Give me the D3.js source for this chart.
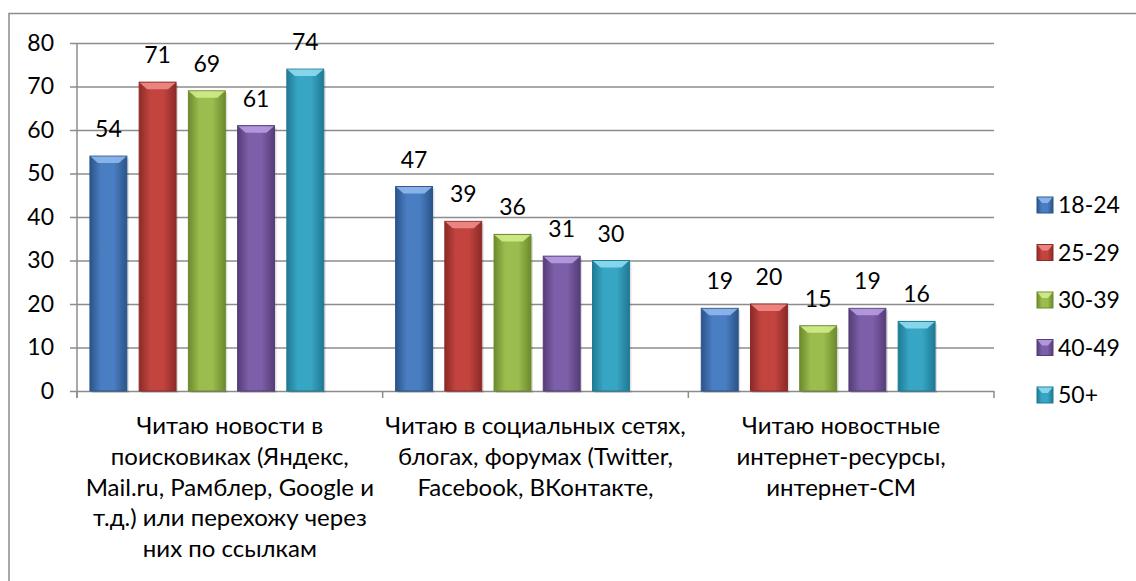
<!DOCTYPE html>
<html>
<head>
<meta charset="utf-8">
<script src="https://cdn.jsdelivr.net/npm/d3@7"></script>
<style>
  html, body { margin: 0; padding: 0; background: #fff; }
  svg text { font-family: Lato, "Open Sans", sans-serif; fill: #000; }
</style>
</head>
<body>
<div id="chart"></div>
<script>
// categories (x-axis labels, already broken into lines like the original)
const categories = [
  "Читаю новости в поисковиках (Яндекс, Mail.ru, Рамблер, Google и т.д.) или перехожу через них по ссылкам",
  "Читаю в социальных сетях, блогах, форумах (Twitter, Facebook, ВКонтакте,",
  "Читаю новостные интернет-ресурсы, интернет-СМ"
];
const categoryLines = [
  ["Читаю новости в", "поисковиках (Яндекс,", "Mail.ru, Рамблер, Google и", "т.д.) или перехожу через", "них по ссылкам"],
  ["Читаю в социальных сетях,", "блогах, форумах (Twitter,", "Facebook, ВКонтакте,"],
  ["Читаю новостные", "интернет-ресурсы,", "интернет-СМ"]
];
const seriesNames = ["18-24", "25-29", "30-39", "40-49", "50+"];
const v18_24 = [54, 47, 19];
const v25_29 = [71, 39, 20];
const v30_39 = [69, 36, 15];
const v40_49 = [61, 31, 19];
const v50plus = [74, 30, 16];
const yTicks = [0, 10, 20, 30, 40, 50, 60, 70, 80];

const seriesValues = [v18_24, v25_29, v30_39, v40_49, v50plus];
// [edge, centre, bevel]
const palette = [
  ["#2b5489", "#4a7ec2", "#8fb8ec"],
  ["#8c2a27", "#c3443f", "#f08c88"],
  ["#6d8a2c", "#9bbd4f", "#d0ec8a"],
  ["#553d78", "#7d5ea8", "#b79ce0"],
  ["#1f7a94", "#37a6c4", "#8fdcf0"]
];

const W = 1136, H = 581;
const plot = { left: 77, right: 994, top: 43, bottom: 391 };

const svg = d3.select("#chart").append("svg")
  .attr("width", W).attr("height", H);

const defs = svg.append("defs");
palette.forEach((c, i) => {
  const g = defs.append("linearGradient").attr("id", "grad" + i)
    .attr("x1", "0%").attr("x2", "100%").attr("y1", "0%").attr("y2", "0%");
  g.append("stop").attr("offset", "0%").attr("stop-color", c[0]);
  g.append("stop").attr("offset", "30%").attr("stop-color", c[1]);
  g.append("stop").attr("offset", "65%").attr("stop-color", c[1]);
  g.append("stop").attr("offset", "100%").attr("stop-color", c[0]);
});

// outer chart border
svg.append("path")
  .attr("d", `M9,${H} V13.5 H${W}`)
  .attr("fill", "none").attr("stroke", "#8c8c8c").attr("stroke-width", 1.5);

const x0 = d3.scaleBand()
  .domain(d3.range(categories.length))
  .range([plot.left, plot.right])
  .padding(0);

const x1 = d3.scaleBand()
  .domain(d3.range(seriesNames.length))
  .range([0, x0.bandwidth()])
  .paddingInner(0.25)
  .paddingOuter(0.73)
  .align(0.18);

const y = d3.scaleLinear().domain([0, 80]).range([plot.bottom, plot.top]);

// gridlines + y axis
const yAxis = d3.axisLeft(y).tickValues(yTicks).tickSize(7).tickPadding(16);
const gy = svg.append("g").attr("transform", `translate(${plot.left},0)`).call(yAxis);
gy.select(".domain").remove();
gy.selectAll(".tick line").attr("x2", plot.right - plot.left)
  .attr("x1", -7).attr("stroke", "#8c8c8c").attr("stroke-width", 1.5);
gy.selectAll(".tick text").attr("font-size", 23).attr("font-family", "Lato, 'Open Sans', sans-serif");

svg.append("line")
  .attr("x1", plot.left).attr("x2", plot.left)
  .attr("y1", plot.top).attr("y2", plot.bottom + 7)
  .attr("stroke", "#8c8c8c").attr("stroke-width", 1.5);

// x axis ticks at category boundaries
const boundaries = d3.range(categories.length + 1).map(i =>
  i < categories.length ? x0(i) : x0(i - 1) + x0.bandwidth());
svg.selectAll(".xtick").data(boundaries).enter().append("line")
  .attr("x1", d => d).attr("x2", d => d)
  .attr("y1", plot.bottom).attr("y2", plot.bottom + 7)
  .attr("stroke", "#8c8c8c").attr("stroke-width", 1.5);

// bars
const groups = svg.selectAll(".grp").data(categories).enter().append("g")
  .attr("transform", (d, i) => `translate(${x0(i)},0)`);

seriesValues.forEach((vals, s) => {
  groups.each(function (d, ci) {
    const g = d3.select(this);
    const v = vals[ci];
    const bx = x1(s), bw = x1.bandwidth();
    const top = y(v), h = y(0) - y(v);
    g.append("rect")
      .attr("x", bx + 2).attr("y", top + 2).attr("width", bw).attr("height", h)
      .attr("fill", "#000").attr("opacity", 0.12);
    g.append("rect")
      .attr("x", bx).attr("y", top).attr("width", bw).attr("height", h)
      .attr("fill", `url(#grad${s})`)
      .attr("stroke", palette[s][0]).attr("stroke-width", 1);
    const bev = Math.min(7, h);
    g.append("path")
      .attr("d", `M${bx + 0.5},${top + 0.5} L${bx + bw - 0.5},${top + 0.5} L${bx + bw - 8},${top + bev} L${bx + 8},${top + bev} Z`)
      .attr("fill", palette[s][2]).attr("opacity", 0.9);
    g.append("text")
      .attr("x", bx + bw / 2).attr("y", top - 19)
      .attr("text-anchor", "middle").attr("font-size", 23)
      .text(v);
  });
});

// category labels
svg.selectAll(".xlab").data(categoryLines).enter().append("text")
  .attr("text-anchor", "middle").attr("font-size", 24)
  .each(function (lines, i) {
    const t = d3.select(this);
    lines.forEach((ln, k) => {
      t.append("tspan")
        .attr("x", x0(i) + x0.bandwidth() / 2)
        .attr("y", 434 + k * 30.8)
        .text(ln);
    });
  });

// legend
const legend = svg.append("g").attr("transform", "translate(1037,0)");
seriesNames.forEach((name, s) => {
  const cy = 205 + s * 47.5;
  legend.append("rect")
    .attr("x", 0).attr("y", cy - 8).attr("width", 16).attr("height", 16)
    .attr("fill", `url(#grad${s})`).attr("stroke", palette[s][0]).attr("stroke-width", 1);
  legend.append("path")
    .attr("d", `M0.5,${cy - 7.5} L15.5,${cy - 7.5} L11,${cy - 2} L5,${cy - 2} Z`)
    .attr("fill", palette[s][2]).attr("opacity", 0.9);
  legend.append("text")
    .attr("x", 21).attr("y", cy).attr("dy", "0.36em")
    .attr("font-size", 23).text(name);
});
</script>
</body>
</html>
